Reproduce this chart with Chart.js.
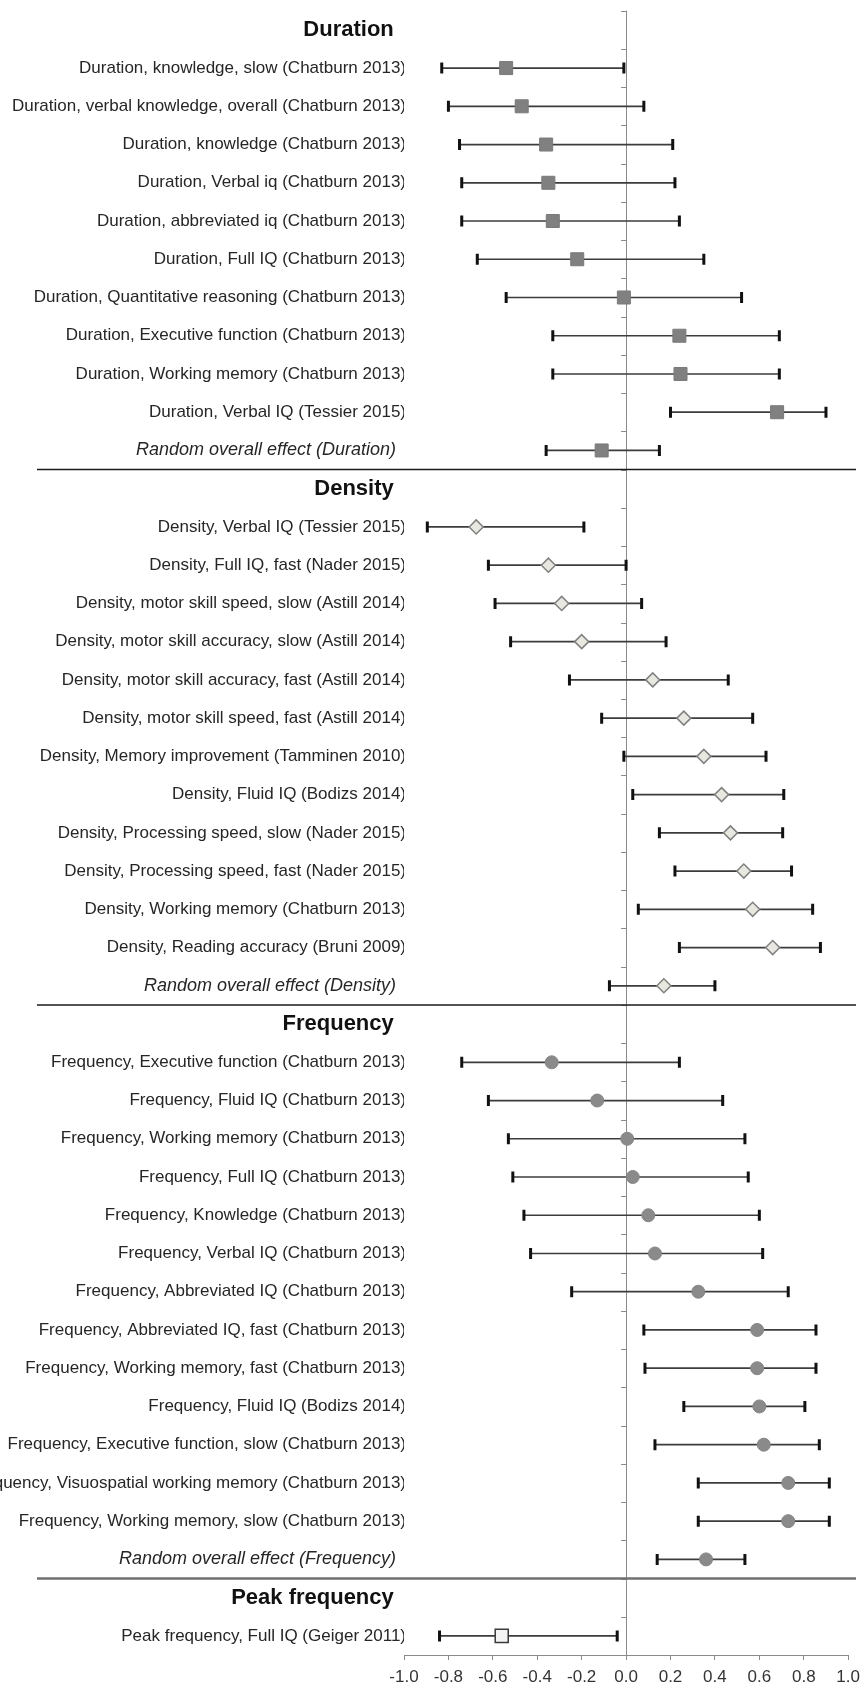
<!DOCTYPE html>
<html>
<head>
<meta charset="utf-8">
<script src="https://cdn.jsdelivr.net/npm/chart.js@4.4.1/dist/chart.umd.min.js"></script>
<style>
html,body{margin:0;padding:0;background:#fff;}
canvas{display:block;}
</style>
</head>
<body>
<canvas id="c" width="867" height="1687"></canvas>
<script>
// ---------- DATA ----------
const groupNames = ['Duration', 'Density', 'Frequency', 'Peak frequency'];

const durationLabels = [
  'Duration, knowledge, slow (Chatburn 2013)',
  'Duration, verbal knowledge, overall (Chatburn 2013)',
  'Duration, knowledge (Chatburn 2013)',
  'Duration, Verbal iq (Chatburn 2013)',
  'Duration, abbreviated iq (Chatburn 2013)',
  'Duration, Full IQ (Chatburn 2013)',
  'Duration, Quantitative reasoning (Chatburn 2013)',
  'Duration, Executive function (Chatburn 2013)',
  'Duration, Working memory (Chatburn 2013)',
  'Duration, Verbal IQ (Tessier 2015)',
  'Random overall effect (Duration)'
];
const durationMean = [-0.54, -0.47, -0.36, -0.35, -0.33, -0.22, -0.01, 0.24, 0.245, 0.68, -0.11];
const durationLow  = [-0.83, -0.80, -0.75, -0.74, -0.74, -0.67, -0.54, -0.33, -0.33, 0.20, -0.36];
const durationHigh = [-0.01, 0.08, 0.21, 0.22, 0.24, 0.35, 0.52, 0.69, 0.69, 0.90, 0.15];

const densityLabels = [
  'Density, Verbal IQ (Tessier 2015)',
  'Density, Full IQ, fast (Nader 2015)',
  'Density, motor skill speed, slow (Astill 2014)',
  'Density, motor skill accuracy, slow (Astill 2014)',
  'Density, motor skill accuracy, fast (Astill 2014)',
  'Density, motor skill speed, fast (Astill 2014)',
  'Density, Memory improvement (Tamminen 2010)',
  'Density, Fluid IQ (Bodizs 2014)',
  'Density, Processing speed, slow (Nader 2015)',
  'Density, Processing speed, fast (Nader 2015)',
  'Density, Working memory (Chatburn 2013)',
  'Density, Reading accuracy (Bruni 2009)',
  'Random overall effect (Density)'
];
const densityMean = [-0.675, -0.35, -0.29, -0.20, 0.12, 0.26, 0.35, 0.43, 0.47, 0.53, 0.57, 0.66, 0.17];
const densityLow  = [-0.895, -0.62, -0.59, -0.52, -0.255, -0.11, -0.01, 0.03, 0.15, 0.22, 0.055, 0.24, -0.075];
const densityHigh = [-0.19, 0.0, 0.07, 0.18, 0.46, 0.57, 0.63, 0.71, 0.705, 0.745, 0.84, 0.875, 0.40];

const frequencyLabels = [
  'Frequency, Executive function (Chatburn 2013)',
  'Frequency, Fluid IQ (Chatburn 2013)',
  'Frequency, Working memory (Chatburn 2013)',
  'Frequency, Full IQ (Chatburn 2013)',
  'Frequency, Knowledge (Chatburn 2013)',
  'Frequency, Verbal IQ (Chatburn 2013)',
  'Frequency, Abbreviated IQ (Chatburn 2013)',
  'Frequency, Abbreviated IQ, fast (Chatburn 2013)',
  'Frequency, Working memory, fast (Chatburn 2013)',
  'Frequency, Fluid IQ (Bodizs 2014)',
  'Frequency, Executive function, slow (Chatburn 2013)',
  'Frequency, Visuospatial working memory (Chatburn 2013)',
  'Frequency, Working memory, slow (Chatburn 2013)',
  'Random overall effect (Frequency)'
];
const frequencyMean = [-0.335, -0.13, 0.005, 0.03, 0.10, 0.13, 0.325, 0.59, 0.59, 0.60, 0.62, 0.73, 0.73, 0.36];
const frequencyLow  = [-0.74, -0.62, -0.53, -0.51, -0.46, -0.43, -0.245, 0.08, 0.085, 0.26, 0.13, 0.325, 0.325, 0.14];
const frequencyHigh = [0.24, 0.435, 0.535, 0.55, 0.60, 0.615, 0.73, 0.855, 0.855, 0.805, 0.87, 0.915, 0.915, 0.535];

const peakLabels = ['Peak frequency, Full IQ (Geiger 2011)'];
const peakMean = [-0.56];
const peakLow  = [-0.84];
const peakHigh = [-0.04];

const xTickValues = [-1.0, -0.8, -0.6, -0.4, -0.2, 0.0, 0.2, 0.4, 0.6, 0.8, 1.0];
const xTickLabels = ['-1.0', '-0.8', '-0.6', '-0.4', '-0.2', '0.0', '0.2', '0.4', '0.6', '0.8', '1.0'];

// ---------- BUILD ----------
const FAMILY = "'Liberation Sans', Arial, sans-serif";
const groups = [
  {name: groupNames[0], labels: durationLabels, mean: durationMean, low: durationLow, high: durationHigh,
   style: {pointStyle: 'rect', radius: 9.2, bg: '#808080', border: '#7a7a7a', bw: 1}},
  {name: groupNames[1], labels: densityLabels, mean: densityMean, low: densityLow, high: densityHigh,
   style: {pointStyle: 'rectRot', radius: 7, bg: '#e8e8e0', border: '#808080', bw: 1.5}},
  {name: groupNames[2], labels: frequencyLabels, mean: frequencyMean, low: frequencyLow, high: frequencyHigh,
   style: {pointStyle: 'circle', radius: 6.5, bg: '#8a8a8a', border: '#858585', bw: 1}},
  {name: groupNames[3], labels: peakLabels, mean: peakMean, low: peakLow, high: peakHigh,
   style: {pointStyle: 'rect', radius: 9.2, bg: '#f4f4f4', border: '#3a3a3a', bw: 1.5}}
];

const allLabels = [];
const headingSet = new Set(groupNames);
const groupEnds = [];
groups.forEach(g => {
  allLabels.push(g.name);
  g.labels.forEach(l => allLabels.push(l));
  groupEnds.push(allLabels.length - 1);
});
const isItalic = l => l.indexOf('Random overall effect') === 0;

const datasets = groups.map(g => ({
  label: g.name,
  data: g.labels.map((l, i) => ({x: g.mean[i], y: l, low: g.low[i], high: g.high[i]})),
  pointStyle: g.style.pointStyle,
  pointRadius: g.style.radius,
  pointBackgroundColor: g.style.bg,
  pointBorderColor: g.style.border,
  pointBorderWidth: g.style.bw,
  showLine: false
}));

// ---------- PLUGINS ----------
const forestDecor = {
  id: 'forestDecor',
  beforeDatasetsDraw(chart) {
    const {ctx, scales: {x, y}, chartArea} = chart;
    const rowH = (y.getPixelForValue(1) - y.getPixelForValue(0));
    const x0 = x.getPixelForValue(0);
    ctx.save();
    // category tick marks on zero line
    ctx.strokeStyle = '#8a8a8a';
    ctx.lineWidth = 1;
    for (let i = 0; i <= allLabels.length; i++) {
      const py = Math.round(y.getPixelForValue(0) - rowH / 2 + i * rowH) + 0.5;
      ctx.beginPath();
      ctx.moveTo(x0 - 5, py);
      ctx.lineTo(x0, py);
      ctx.stroke();
    }
    // group separators
    groupEnds.slice(0, -1).forEach((idx, k) => {
      const py = (y.getPixelForValue(idx) + y.getPixelForValue(idx + 1)) / 2;
      ctx.beginPath();
      ctx.strokeStyle = k < 2 ? '#1a1a1a' : '#707070';
      ctx.lineWidth = k < 2 ? 1.5 : 2.5;
      ctx.moveTo(37, py);
      ctx.lineTo(856, py);
      ctx.stroke();
    });
    // error bars
    chart.data.datasets.forEach((ds, di) => {
      const meta = chart.getDatasetMeta(di);
      ds.data.forEach((d, i) => {
        const py = meta.data[i].y;
        const xl = x.getPixelForValue(d.low);
        const xh = x.getPixelForValue(d.high);
        ctx.beginPath();
        ctx.strokeStyle = '#3c3c3c';
        ctx.lineWidth = 1.7;
        ctx.moveTo(xl, py);
        ctx.lineTo(xh, py);
        ctx.stroke();
        ctx.beginPath();
        ctx.strokeStyle = '#111';
        ctx.lineWidth = 3;
        ctx.moveTo(xl, py - 5.5);
        ctx.lineTo(xl, py + 5.5);
        ctx.moveTo(xh, py - 5.5);
        ctx.lineTo(xh, py + 5.5);
        ctx.stroke();
      });
    });
    ctx.restore();
  }
};

// ---------- CHART ----------
new Chart(document.getElementById('c'), {
  type: 'scatter',
  data: {labels: allLabels, datasets},
  options: {
    responsive: false,
    animation: false,
    events: [],
    layout: {padding: {top: 7, right: 15, left: 0, bottom: 0}},
    plugins: {legend: {display: false}, tooltip: {enabled: false}},
    scales: {
      x: {
        type: 'linear',
        position: 'bottom',
        min: -1,
        max: 1,
        afterFit: s => { s.height = 32; },
        afterBuildTicks: s => { s.ticks = xTickValues.map(v => ({value: v})); },
        ticks: {
          autoSkip: false,
          maxRotation: 0,
          padding: 7,
          color: '#333',
          font: {family: FAMILY, size: 17},
          callback: (v, i) => xTickLabels[i]
        },
        grid: {
          drawOnChartArea: true,
          drawTicks: true,
          tickLength: 5,
          tickColor: '#8a8a8a',
          lineWidth: 1,
          color: c => (c.tick && Math.abs(c.tick.value) < 1e-9) ? '#8a8a8a' : 'rgba(0,0,0,0)'
        },
        border: {display: true, color: '#8a8a8a', width: 1}
      },
      y: {
        type: 'category',
        labels: allLabels,
        offset: true,
        afterFit: s => { s.width = 404; },
        grid: {display: false, drawTicks: false},
        border: {display: false},
        ticks: {
          autoSkip: false,
          padding: -2,
          color: c => headingSet.has(allLabels[c.index]) ? '#111' : '#262626',
          font: c => {
            const l = allLabels[c.index];
            if (headingSet.has(l)) return {family: FAMILY, size: 22, weight: 'bold'};
            if (isItalic(l)) return {family: FAMILY, size: 18, style: 'italic'};
            return {family: FAMILY, size: 17};
          },
          callback: function (v, i) {
            const l = allLabels[i];
            if (headingSet.has(l)) return l + '  ';
            if (isItalic(l)) return l + '  ';
            return l;
          }
        }
      }
    }
  },
  plugins: [forestDecor]
});
</script>
</body>
</html>
